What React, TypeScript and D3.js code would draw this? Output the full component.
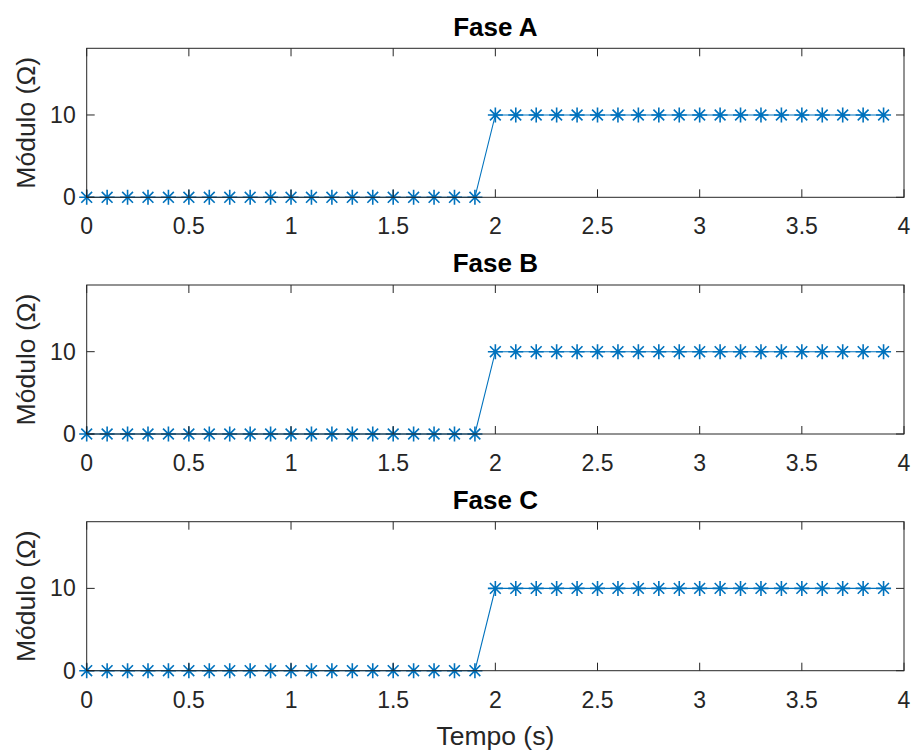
import * as d3 from "d3";

const phases = ["Fase A", "Fase B", "Fase C"];
const tempo = [
  0, 0.1, 0.2, 0.3, 0.4, 0.5, 0.6, 0.7, 0.8, 0.9,
  1.0, 1.1, 1.2, 1.3, 1.4, 1.5, 1.6, 1.7, 1.8, 1.9,
  2.0, 2.1, 2.2, 2.3, 2.4, 2.5, 2.6, 2.7, 2.8, 2.9,
  3.0, 3.1, 3.2, 3.3, 3.4, 3.5, 3.6, 3.7, 3.8, 3.9,
];
const moduloA = [
  0, 0, 0, 0, 0, 0, 0, 0, 0, 0, 0, 0, 0, 0, 0, 0, 0, 0, 0, 0,
  10, 10, 10, 10, 10, 10, 10, 10, 10, 10, 10, 10, 10, 10, 10, 10, 10, 10, 10, 10,
];
const moduloB = [
  0, 0, 0, 0, 0, 0, 0, 0, 0, 0, 0, 0, 0, 0, 0, 0, 0, 0, 0, 0,
  10, 10, 10, 10, 10, 10, 10, 10, 10, 10, 10, 10, 10, 10, 10, 10, 10, 10, 10, 10,
];
const moduloC = [
  0, 0, 0, 0, 0, 0, 0, 0, 0, 0, 0, 0, 0, 0, 0, 0, 0, 0, 0, 0,
  10, 10, 10, 10, 10, 10, 10, 10, 10, 10, 10, 10, 10, 10, 10, 10, 10, 10, 10, 10,
];
const xTicks = [0, 0.5, 1, 1.5, 2, 2.5, 3, 3.5, 4];
const yTicks = [0, 10];

const W = 912;
const H = 752;
const left = 86.7;
const right = 904;
const plotH = 149;
const tops = [48.3, 285, 521.7];
const axisColor = "#262626";
const lineColor = "#0072BD";
const font = "'Liberation Sans', Arial, Helvetica, sans-serif";
const tickLen = 8;

// asterisk marker like MATLAB '*': plus + cross
const star = (r: number) => {
  const d = r * 0.72;
  return `M0,${-r}L0,${r}M${-r},0L${r},0M${-d},${-d}L${d},${d}M${-d},${d}L${d},${-d}`;
};

const Panel: React.FC<{ title: string; values: number[]; top: number }> = ({ title, values, top }) => {
  const x = d3.scaleLinear().domain([0, 4]).range([left, right]);
  const y = d3.scaleLinear().domain([0, 18.1]).range([top + plotH, top]);
  const pts = tempo.map((t, i) => [t, values[i]] as [number, number]);
  const line = d3.line<[number, number]>().x((d) => x(d[0])).y((d) => y(d[1]));
  const bottom = top + plotH;

  return (
    <g>
      <path d={line(pts) ?? ""} fill="none" stroke={lineColor} strokeWidth={1.1} />
      {pts.map((p, i) => (
        <path key={i} transform={`translate(${x(p[0])},${y(p[1])})`} d={star(7.5)}
          fill="none" stroke={lineColor} strokeWidth={1.6} />
      ))}
      <rect x={left} y={top} width={right - left} height={plotH} fill="none" stroke={axisColor} strokeWidth={1} />
      {xTicks.map((t) => (
        <g key={`x${t}`}>
          <line x1={x(t)} x2={x(t)} y1={bottom} y2={bottom - tickLen} stroke={axisColor} />
          <line x1={x(t)} x2={x(t)} y1={top} y2={top + tickLen} stroke={axisColor} />
          <text x={x(t)} y={bottom + 37} textAnchor="middle" fontSize={23} fill={axisColor} fontFamily={font}>
            {t}
          </text>
        </g>
      ))}
      {yTicks.map((t) => (
        <g key={`y${t}`}>
          <line x1={left} x2={left + tickLen} y1={y(t)} y2={y(t)} stroke={axisColor} />
          <line x1={right} x2={right - tickLen} y1={y(t)} y2={y(t)} stroke={axisColor} />
          <text x={left - 11} y={y(t) + 8} textAnchor="end" fontSize={23} fill={axisColor} fontFamily={font}>
            {t}
          </text>
        </g>
      ))}
      <text x={(left + right) / 2} y={top - 12.6} textAnchor="middle" fontSize={26} fontWeight="bold"
        fill="#000" fontFamily={font}>
        {title}
      </text>
      <text transform={`translate(35,${top + plotH / 2}) rotate(-90)`} textAnchor="middle" fontSize={26.5}
        fill={axisColor} fontFamily={font}>
        Módulo (Ω)
      </text>
    </g>
  );
};

export default function App() {
  const series = [moduloA, moduloB, moduloC];
  return (
    <svg width={W} height={H} style={{ position: "absolute", left: 0, top: 0, background: "#fff" }}>
      <rect width={W} height={H} fill="#fff" />
      {phases.map((p, i) => (
        <Panel key={p} title={p} values={series[i]} top={tops[i]} />
      ))}
      <text x={(left + right) / 2} y={745} textAnchor="middle" fontSize={26.5} fill={axisColor} fontFamily={font}>
        Tempo (s)
      </text>
    </svg>
  );
}
